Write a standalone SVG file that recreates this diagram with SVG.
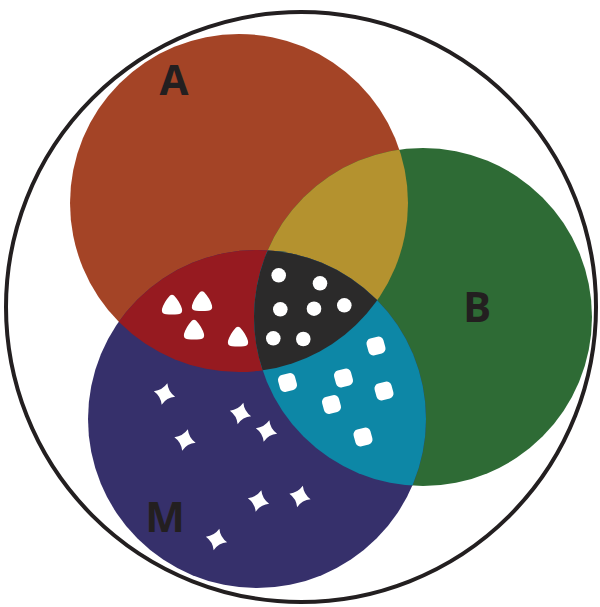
<svg xmlns="http://www.w3.org/2000/svg" width="600" height="607" viewBox="0 0 600 607">
<style>
.lbl{font-family:"Open Sans","Liberation Sans",sans-serif;font-weight:700;font-size:42px;fill:#231F20;text-anchor:middle}
.mk{fill:#FFFFFF}
</style>
<defs>
<clipPath id="cA"><circle cx="239" cy="203" r="169"/></clipPath>
<clipPath id="cB"><circle cx="423" cy="317" r="169"/></clipPath>
<clipPath id="cAB" clip-path="url(#cA)"><circle cx="423" cy="317" r="169"/></clipPath>
<path id="tri" d="M -2,-9.5 Q 0,-11 2,-9.5 Q 8,-3 10,4 Q 11,9 6,9.3 Q 0,9.8 -6,9.3 Q -11,9 -10,4 Q -8,-3 -2,-9.5 Z"/>
<path id="star" d="M 0,-11 Q 3,-3 11,0 Q 3,3 0,11 Q -3,3 -11,0 Q -3,-3 0,-11 Z"/>
<rect id="sq" x="-8.7" y="-8.7" width="17.4" height="17.4" rx="5"/>
</defs>
<rect width="600" height="607" fill="#FFFFFF"/>
<g id="universe"><circle cx="301" cy="307" r="295" fill="none" stroke="#231F20" stroke-width="4"/></g>
<g id="A"><circle cx="239" cy="203" r="169" fill="#A44426"/><text class="lbl" x="174" y="95">A</text></g>
<g id="B"><circle cx="423" cy="317" r="169" fill="#2E6B35"/><text class="lbl" x="477" y="322">B</text></g>
<g id="M"><circle cx="257" cy="419" r="169" fill="#36306B"/><text class="lbl" x="165" y="532">M</text></g>
<g id="AB"><circle cx="423" cy="317" r="169" fill="#B4922F" clip-path="url(#cA)"/></g>
<g id="AM"><circle cx="257" cy="419" r="169" fill="#961A20" clip-path="url(#cA)"/>
<use href="#tri" class="mk" x="172" y="305"/>
<use href="#tri" class="mk" x="202" y="301.5"/>
<use href="#tri" class="mk" x="194" y="330"/>
<use href="#tri" class="mk" x="238" y="337"/>
</g>
<g id="BM"><circle cx="257" cy="419" r="169" fill="#0D87A6" clip-path="url(#cB)"/>
<use href="#sq" class="mk" transform="translate(376,346) rotate(-15)"/>
<use href="#sq" class="mk" transform="translate(287.5,382.5) rotate(-15)"/>
<use href="#sq" class="mk" transform="translate(343.5,378) rotate(-15)"/>
<use href="#sq" class="mk" transform="translate(331.5,404.5) rotate(-15)"/>
<use href="#sq" class="mk" transform="translate(384,391) rotate(-15)"/>
<use href="#sq" class="mk" transform="translate(363,437) rotate(-15)"/>
</g>
<g id="ABM"><circle cx="257" cy="419" r="169" fill="#2B2A2A" clip-path="url(#cAB)"/>
<circle class="mk" cx="278.7" cy="275.3" r="7.3"/>
<circle class="mk" cx="320" cy="283.3" r="7.3"/>
<circle class="mk" cx="280.3" cy="309.3" r="7.3"/>
<circle class="mk" cx="314" cy="308.7" r="7.3"/>
<circle class="mk" cx="344.3" cy="305.3" r="7.3"/>
<circle class="mk" cx="273.3" cy="338.3" r="7.3"/>
<circle class="mk" cx="303.3" cy="339" r="7.3"/>
</g>
<g id="M-marks">
<use href="#star" class="mk" transform="translate(164.5,394) rotate(15)"/>
<use href="#star" class="mk" transform="translate(240.5,413.5) rotate(15)"/>
<use href="#star" class="mk" transform="translate(266.5,431) rotate(15)"/>
<use href="#star" class="mk" transform="translate(185,440) rotate(15)"/>
<use href="#star" class="mk" transform="translate(258.5,501) rotate(15)"/>
<use href="#star" class="mk" transform="translate(300,496.5) rotate(15)"/>
<use href="#star" class="mk" transform="translate(216.5,539.5) rotate(15)"/>
</g>
</svg>
